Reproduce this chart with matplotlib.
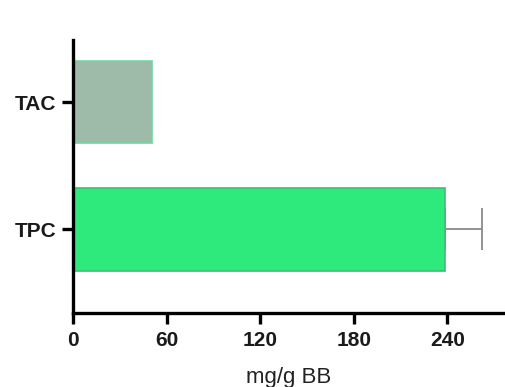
import matplotlib
matplotlib.use("Agg")
import matplotlib.pyplot as plt

categories = ["TPC", "TAC"]
values = [238.5, 50.5]
errors = [24, 0]
colors = ["#2EEA7C", "#9DBBA8"]
edgecolors = ["#3DBF70", "#6FD9A0"]
xticks = [0, 60, 120, 180, 240]

plt.rcParams['font.family'] = ['Liberation Sans', 'DejaVu Sans']

fig = plt.figure(figsize=(5.05, 3.87), dpi=100)
ax = fig.add_axes([0.1446, 0.191, 0.8554, 0.706])

ypos = list(range(len(categories)))
ax.barh(ypos, values, height=0.65, color=colors, edgecolor=edgecolors, linewidth=1.2, zorder=2)
for y, v, e in zip(ypos, values, errors):
    if e > 0:
        ax.errorbar(v, y, xerr=[[0], [e]], fmt='none', ecolor='#8a8a8a', elinewidth=1.3,
                    capsize=15, capthick=1.3, zorder=1)

ax.set_xlim(0, 277)
ax.set_ylim(-0.66, 1.49)
ax.set_yticks(ypos)
ax.set_yticklabels(categories, fontsize=15, fontweight='bold', color='#1a1a1a')
ax.set_xticks(xticks)
ax.set_xticklabels([str(t) for t in xticks], fontsize=15, fontweight='bold', color='#1a1a1a')
ax.set_xlabel("mg/g BB", fontsize=16, labelpad=12, color='#222222')

for s in ['top', 'right']:
    ax.spines[s].set_visible(False)
for s in ['left', 'bottom']:
    ax.spines[s].set_linewidth(2.4)
ax.tick_params(axis='both', width=2.4, length=8, color='black')
ax.tick_params(axis='x', pad=5)
ax.tick_params(axis='y', pad=4)

fig.savefig("out.png", dpi=100)
